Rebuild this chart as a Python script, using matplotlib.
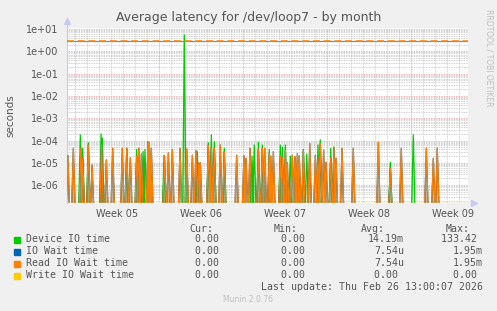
import matplotlib
matplotlib.use("Agg")
import matplotlib.pyplot as plt
import numpy as np

# Data (x in days from start of Week 05)
device_days = [0.44, 0.64, 1.11, 2.17, 2.28, 4.31, 5.14, 5.67, 5.83, 7.42,
               9.11, 10.19, 11.11, 11.36, 11.61, 12.44, 14.75, 14.94, 15.28, 15.61,
               16.19, 17.11, 17.28, 17.53, 17.94, 19.03, 19.31, 20.25, 20.44, 21.31,
               21.58, 26.28, 28.19]
device_vals = [1.8e-4, 4.5e-5, 7.9e-5, 2.0e-4, 1.3e-4, 4.5e-5, 4.0e-5, 3.2e-5, 4.0e-5, 2.2e-5,
               5.4, 3.2e-5, 7.9e-5, 1.8e-4, 8.9e-5, 4.5e-5, 2.0e-5, 6.3e-5, 8.3e-5, 6.3e-5,
               4.0e-5, 6.3e-5, 5.0e-5, 6.3e-5, 2.0e-5, 4.0e-5, 2.5e-5, 6.3e-5, 1.07e-4, 4.5e-5,
               5.2e-5, 1.05e-5, 1.8e-4]

read_days = [-0.6, -0.14, 0.48, 0.64, 1.11, 1.42, 2.21, 2.61, 3.14, 3.94,
             4.31, 4.61, 5.14, 5.31, 5.53, 6.08, 6.19, 6.36, 7.46, 7.78,
             8.11, 8.75, 9.31, 9.78, 10.08, 10.31, 10.44, 11.11, 11.36, 11.61,
             12.11, 12.44, 13.47, 14.08, 14.25, 14.58, 15.28, 15.61, 15.81, 16.19,
             16.31, 16.53, 17.11, 17.28, 17.53, 17.69, 18.11, 18.33, 18.53, 18.69,
             19.03, 19.56, 20.03, 20.25, 20.44, 20.72, 20.92, 21.31, 21.58, 21.75,
             22.25, 23.19, 25.28, 26.28, 27.19, 29.28, 29.86, 30.19]
read_vals = [2.1e-5, 4.5e-5, 4.5e-5, 1.6e-5, 6.3e-5, 7.9e-6, 6.3e-5, 1.35e-5, 4.5e-5, 4.5e-5,
             4.5e-5, 1.7e-5, 2.0e-5, 4.5e-5, 2.5e-5, 8.9e-5, 7.9e-5, 4.5e-5, 2.0e-5, 2.8e-5,
             4.0e-5, 4.5e-5, 4.2e-5, 2.2e-5, 3.5e-5, 1.0e-5, 1.0e-5, 6.3e-5, 4.5e-5, 4.5e-5,
             6.3e-5, 3.2e-5, 2.2e-5, 2.1e-5, 1.6e-5, 4.5e-5, 4.2e-5, 4.5e-5, 4.5e-5, 2.8e-5,
             2.0e-5, 3.2e-5, 2.1e-5, 1.6e-5, 3.7e-5, 1.05e-5, 2.2e-5, 1.9e-5, 2.6e-5, 2.1e-5,
             3.7e-5, 7.4e-5, 2.2e-5, 1.6e-5, 7.4e-5, 3.7e-5, 1.05e-5, 1.6e-5, 4.5e-5, 1.6e-5,
             4.5e-5, 4.5e-5, 8.3e-5, 5.6e-6, 4.5e-5, 4.5e-5, 1.6e-5, 4.5e-5]
# IO wait equals read IO wait in this graph
iowait_days = read_days
iowait_vals = read_vals

warn_level = 2.9

week_labels = ["Week 05", "Week 06", "Week 07", "Week 08", "Week 09"]
week_starts = [0, 7, 14, 21, 28]

series_names = ["Device IO time", "IO Wait time", "Read IO Wait time", "Write IO Wait time"]
series_colors = ["#00cc00", "#0066b3", "#ff8000", "#ffcc00"]
cur_col = ["0.00 ", "0.00 ", "0.00 ", "0.00 "]
min_col = ["0.00 ", "0.00 ", "0.00 ", "0.00 "]
avg_col = ["14.19m", "7.54u", "7.54u", "0.00 "]
max_col = ["133.42 ", "1.95m", "1.95m", "0.00 "]

FLOOR = 1e-7
XMIN, XMAX = -0.67, 32.75
YMIN, YMAX = 1.58e-7, 11.1

fig = plt.figure(figsize=(4.97, 3.11), dpi=100)
fig.patch.set_facecolor("#f0f0f0")
ax = fig.add_axes([67 / 497, 1 - 203 / 311, 401 / 497, 175 / 311])
ax.set_facecolor("white")
ax.set_yscale("log")
ax.set_xlim(XMIN, XMAX)
ax.set_ylim(YMIN, YMAX)

# grid (rrdtool style)
for d in range(0, 33):
    if d in week_starts:
        continue
    ax.axvline(d, color="#c8c8c8", lw=0.6, ls=(0, (1, 1)), zorder=0)
for e in range(-7, 2):
    for m in range(2, 10):
        v = m * 10.0 ** e
        if YMIN < v < YMAX:
            ax.axhline(v, color="#c0c0c0", lw=0.6, ls=(0, (1, 1)), zorder=0)
for e in range(-6, 2):
    ax.axhline(10.0 ** e, color="#e8a0a0", lw=0.6, ls=(0, (1, 1)), zorder=0.5)
for d in week_starts:
    ax.axvline(d, color="#e8a0a0", lw=0.6, ls=(0, (1, 1)), zorder=0.5)


def spikes(days, vals, w=0.14):
    xs, ys = [], []
    for d, v in zip(days, vals):
        xs += [d - w, d, d + w]
        ys += [FLOOR, v, FLOOR]
    return xs, ys


for days, vals, col in [(device_days, device_vals, series_colors[0]),
                        (iowait_days, iowait_vals, series_colors[1]),
                        (read_days, read_vals, series_colors[2])]:
    xs, ys = spikes(days, vals)
    ax.fill(xs, ys, color=col, alpha=0.3, lw=0, zorder=2)
    ax.plot(xs, ys, color=col, lw=0.9, zorder=3)

# write IO wait is zero -> sits on the bottom edge
ax.axhline(YMIN * 1.03, color="#e0cc80", lw=1.0, zorder=3)

# warning rule: orange dashes over a grey line
ax.axhline(warn_level, color="#8a8a8a", lw=0.9, zorder=3)
ax.axhline(warn_level, color="#ff8000", lw=1.1, ls=(0, (4.5, 2.5)), zorder=3.1)

for s in ax.spines.values():
    s.set_visible(False)
ax.plot([0, 0], [0, 1.03], transform=ax.transAxes, color="#c8c8f0", lw=0.8, clip_on=False)
ax.plot([0], [1.04], transform=ax.transAxes, marker="^", ms=5, color="#c8c8f0", clip_on=False)
ax.plot([1.015], [0], transform=ax.transAxes, marker=">", ms=5, color="#c8c8f0", clip_on=False)

ax.set_yticks([10.0 ** e for e in range(-6, 2)])
ax.set_yticklabels(["1e-06", "1e-05", "1e-04", "1e-03", "1e-02", "1e-01", "1e+00", "1e+01"])
ax.yaxis.set_minor_locator(matplotlib.ticker.NullLocator())
ax.set_xticks([d + 3.5 for d in week_starts])
ax.set_xticklabels(week_labels)
ax.tick_params(axis="both", which="major", length=0, labelsize=7, colors="#555555", pad=6)
ax.tick_params(axis="x", pad=4)

ax.set_ylabel("seconds", fontsize=7.5, color="#555555", labelpad=8)

fig.text(0.5, 1 - 18 / 311, "Average latency for /dev/loop7 - by month",
         ha="center", va="center", fontsize=9, color="#555555")
fig.text(489 / 497, 1 - 58 / 311, "RRDTOOL / TOBI OETIKER", rotation=270,
         ha="center", va="center", fontsize=5.5, color="#c0c0c0")

mono = dict(family="DejaVu Sans Mono", fontsize=7.1, color="#555555")
row_y = [239.5, 251.5, 263.5, 275.5]
fig.text(213 / 497, 1 - 228.5 / 311, "Cur:", ha="right", va="center", **mono)
fig.text(298 / 497, 1 - 228.5 / 311, "Min:", ha="right", va="center", **mono)
fig.text(385 / 497, 1 - 228.5 / 311, "Avg:", ha="right", va="center", **mono)
fig.text(470 / 497, 1 - 228.5 / 311, "Max:", ha="right", va="center", **mono)
for i, name in enumerate(series_names):
    yy = 1 - row_y[i] / 311
    fig.patches.append(matplotlib.patches.Rectangle((14 / 497, yy - 3 / 311), 6 / 497, 6 / 311,
                                                    transform=fig.transFigure, color=series_colors[i]))
    fig.text(26 / 497, yy, name, ha="left", va="center", **mono)
    fig.text(225 / 497, yy, cur_col[i], ha="right", va="center", **mono)
    fig.text(311 / 497, yy, min_col[i], ha="right", va="center", **mono)
    fig.text(404 / 497, yy, avg_col[i], ha="right", va="center", **mono)
    fig.text(483 / 497, yy, max_col[i], ha="right", va="center", **mono)
fig.text(483 / 497, 1 - 287.5 / 311, "Last update: Thu Feb 26 13:00:07 2026",
         ha="right", va="center", **mono)
fig.text(248 / 497, 1 - 300 / 311, "Munin 2.0.76", ha="center", va="center",
         fontsize=5.5, color="#c0c0c0")

fig.savefig("out.png", dpi=100, facecolor=fig.get_facecolor())
